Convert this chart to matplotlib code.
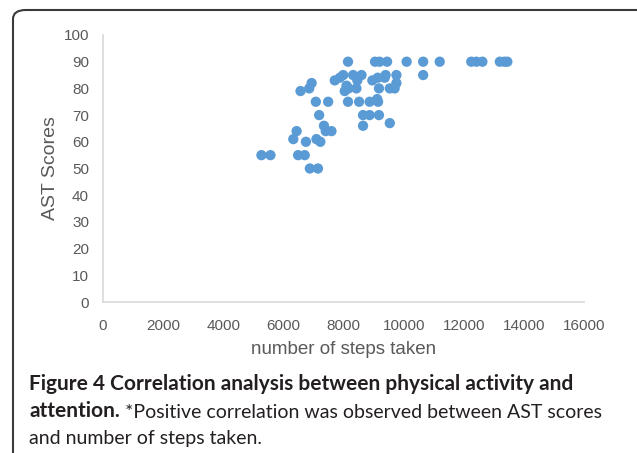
import matplotlib
matplotlib.use("Agg")
import matplotlib.pyplot as plt
from matplotlib.patches import FancyBboxPatch

# steps taken vs AST score
steps = [5270, 5570, 6330, 6440, 6490, 6710, 6750, 6570, 6860, 6940,
         6880, 7150, 7080, 7100, 7190, 7230, 7350, 7410, 7490, 7600,
         7710, 7880, 7990, 8100, 8040, 8150, 8150, 8170, 8320, 8430,
         8520, 8460, 8600, 8650, 8650, 8870, 8870, 8960, 9050, 9200,
         9450, 9140, 9180, 9180, 9150, 9120, 9370, 9400, 9540, 9540,
         9700, 9760, 9760, 10100, 10650, 10650, 11200, 12250, 12420, 12620,
         13200, 13350, 13450]
scores = [55, 55, 61, 64, 55, 55, 60, 79, 80, 82,
          50, 50, 75, 61, 70, 60, 66, 64, 75, 64,
          83, 84, 85, 81, 79, 75, 90, 80, 85, 80,
          75, 83, 85, 70, 66, 75, 70, 83, 90, 90,
          90, 84, 80, 70, 75, 76, 84, 85, 67, 80,
          80, 82, 85, 90, 90, 85, 90, 90, 90, 90,
          90, 90, 90]

x_ticks = list(range(0, 16001, 2000))
y_ticks = list(range(0, 101, 10))

plt.rcParams["font.family"] = ["Liberation Sans", "DejaVu Sans"]

fig = plt.figure(figsize=(6.37, 4.53), dpi=100)
fig.patch.set_facecolor("white")

# rounded frame around the figure
frame = FancyBboxPatch((13 / 637, -0.05), 640 / 637, 1 - 10 / 453 + 0.05,
                       boxstyle="round,pad=0,rounding_size=0.02",
                       transform=fig.transFigure, fill=False,
                       edgecolor="#3a3a3a", linewidth=1.5, clip_on=False)
fig.add_artist(frame)

ax = fig.add_axes([103 / 637, 1 - 302 / 453, 481 / 637, 267 / 453])
ax.scatter(steps, scores, s=55, color="#5B9BD5", edgecolors="none", zorder=3)

ax.set_xlim(0, 16000)
ax.set_ylim(0, 100)
ax.set_xticks(x_ticks)
ax.set_yticks(y_ticks)
ax.tick_params(length=0, labelsize=11, labelcolor="#595959")
ax.tick_params(axis="x", pad=12)
ax.tick_params(axis="y", pad=10)
for s in ["top", "right"]:
    ax.spines[s].set_visible(False)
for s in ["left", "bottom"]:
    ax.spines[s].set_color("#d9d9d9")
    ax.spines[s].set_linewidth(1.2)

ax.set_xlabel("number of steps taken", fontsize=13.5, color="#595959", labelpad=6)
ax.set_ylabel("AST Scores", fontsize=14, color="#595959", labelpad=3)

# caption
cap = dict(color="#231f20", family="Lato")
fig.text(29 / 637, 1 - 390 / 453, "Figure 4 Correlation analysis between physical activity and",
         fontweight="bold", fontsize=15, va="baseline", **cap)
t1 = fig.text(29 / 637, 1 - 417 / 453, "attention.", fontweight="bold", fontsize=15,
              va="baseline", **cap)
ax.annotate(" *Positive correlation was observed between AST scores",
            xy=(1, 0), xycoords=t1, va="bottom", fontsize=14, annotation_clip=False, **cap)
fig.text(29 / 637, 1 - 444 / 453, "and number of steps taken.", fontsize=14,
         va="baseline", **cap)

fig.savefig("out.png", dpi=100, facecolor=fig.get_facecolor())
plt.close()
